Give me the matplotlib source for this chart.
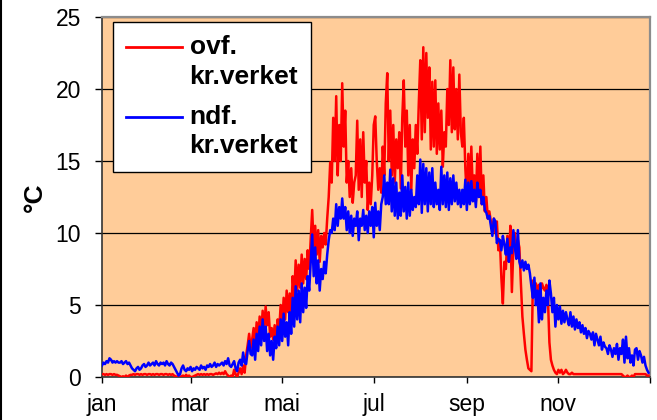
import numpy as np
import matplotlib
matplotlib.use("Agg")
import matplotlib.pyplot as plt
from matplotlib.lines import Line2D
from matplotlib.legend_handler import HandlerLine2D

plt.rcParams['font.family'] = ['Liberation Sans', 'DejaVu Sans']

# ---- data: daily temperature (°C), day of year 0..364 ----
days = np.arange(0, 365)

ovf = [
    0.2, 0.2, 0.15, 0.2, 0.15, 0.2, 0.2, 0.15, 0.2, 0.15,
    0.15, 0.1, 0.05, 0.0, 0.05, 0.0, 0.1, 0.0, 0.1, 0.15,
    0.15, 0.2, 0.15, 0.2, 0.2, 0.15, 0.2, 0.15, 0.2, 0.2,
    0.15, 0.2, 0.2, 0.15, 0.2, 0.15, 0.2, 0.2, 0.15, 0.2,
    0.2, 0.15, 0.2, 0.2, 0.15, 0.2, 0.15, 0.2, 0.1, 0.05,
    0.0, 0.1, 0.0, 0.05, 0.1, 0.0, 0.15, 0.05, 0.1, 0.0,
    0.0, 0.05, 0.1, 0.15, 0.2, 0.15, 0.2, 0.15, 0.2, 0.15,
    0.2, 0.15, 0.2, 0.2, 0.15, 0.2, 0.25, 0.2, 0.3, 0.2,
    0.3, 0.2, 0.4, 0.2, 0.1, 0.0, 0.1, 0.0, 0.5, 0.2,
    0.0, 0.3, 0.6, 0.2, 0.8, 0.3, 1.5, 2.2, 3.0, 2.0,
    2.6, 3.4, 2.2, 3.8, 2.5, 4.2, 3.0, 4.6, 3.2, 4.9,
    3.6, 4.5, 2.8, 3.4, 2.6, 3.6, 2.5, 4.0, 3.2, 5.0,
    3.6, 5.5, 4.0, 6.0, 4.5, 5.8, 4.2, 7.0, 5.5, 8.1,
    6.0, 7.8, 6.2, 8.5, 6.5, 8.2, 6.8, 8.8, 7.5, 9.5,
    11.6, 9.0, 10.5, 8.5, 10.2, 8.0, 9.8, 9.0, 10.0, 9.2,
    11.0, 12.5, 14.9, 13.5, 18.0, 15.0, 19.5, 14.0, 17.5, 15.0,
    20.4, 16.0, 18.5, 13.5, 15.0, 12.5, 14.5, 12.1, 13.5, 14.0,
    17.8, 13.0, 16.5, 12.5, 17.0, 13.5, 15.0, 11.6, 13.5, 12.0,
    14.0, 17.5, 18.1, 15.0, 13.0, 14.5, 12.8, 16.0, 14.0, 19.0,
    21.1, 15.0, 18.5, 14.0, 17.5, 13.5, 16.5, 14.5, 17.0, 13.1,
    18.0, 20.6, 16.0, 18.5, 14.0, 17.5, 13.0, 16.5, 14.5, 17.5,
    15.5, 19.0, 22.0, 16.5, 22.9, 17.0, 22.5, 18.0, 21.5, 15.8,
    20.5, 16.0, 20.6, 15.5, 19.0, 15.8, 18.5, 14.6, 17.0, 16.0,
    20.0, 17.5, 22.0, 17.0, 21.5, 17.2, 20.0, 16.5, 21.0, 17.0,
    16.0, 18.0, 14.5, 12.5, 15.5, 13.0, 16.0, 12.8, 14.0, 12.2,
    15.5, 12.5, 16.0, 12.0, 14.0, 11.5, 12.5, 11.0, 11.5, 10.8,
    10.2, 11.0, 10.0, 10.8, 8.8, 9.5, 6.9, 5.1, 8.0, 7.5,
    9.8, 8.0, 10.5, 5.9, 9.0, 10.0, 8.5, 9.5, 9.0, 6.5,
    4.2, 3.0, 1.9, 1.2, 0.6, 0.5, 0.4, 6.7, 6.2, 6.5,
    6.0, 6.4, 5.8, 6.5, 6.2, 6.0, 6.4, 5.5, 2.4, 1.2,
    0.8, 0.5, 0.3, 0.2, 0.5, 0.3, 0.5, 0.2, 0.3, 0.5,
    0.3, 0.2, 0.2, 0.3, 0.2, 0.2, 0.2, 0.2, 0.2, 0.2,
    0.2, 0.2, 0.2, 0.2, 0.2, 0.2, 0.2, 0.2, 0.2, 0.2,
    0.2, 0.2, 0.2, 0.2, 0.2, 0.2, 0.2, 0.2, 0.2, 0.2,
    0.2, 0.2, 0.2, 0.2, 0.2, 0.2, 0.2, 0.1, 0.0, 0.0,
    0.1, 0.0, 0.0, 0.1, 0.0, 0.2, 0.2, 0.2, 0.2, 0.2,
    0.2, 0.2, 0.2, 0.1, 0.1,
]

ndf = [
    0.8, 1.0, 0.9, 1.1, 1.0, 1.3, 1.2, 1.0, 1.1, 1.0,
    1.1, 1.0, 1.0, 1.1, 0.9, 1.0, 1.1, 0.9, 1.0, 0.8,
    0.6, 0.5, 0.4, 0.6, 0.7, 0.5, 0.6, 0.8, 0.9, 0.7,
    0.8, 1.0, 0.8, 0.9, 1.0, 0.8, 1.1, 0.9, 0.8, 1.0,
    0.9, 1.0, 0.8, 1.1, 0.9, 0.8, 1.0, 0.9, 0.7, 0.5,
    0.3, 0.1, 0.2, 0.6, 0.8, 0.5, 0.4, 0.6, 0.5, 0.7,
    0.4, 0.6, 0.5, 0.7, 0.6, 0.5, 0.8, 0.6, 0.7, 0.5,
    0.8, 0.7, 0.9, 0.7, 0.8, 1.0, 0.7, 0.9, 0.8, 0.9,
    1.0, 0.8, 1.1, 0.9, 1.3, 0.8, 0.7, 0.9, 1.1, 0.6,
    0.4, 1.0, 1.2, 0.8, 1.7, 1.0, 0.9, 1.8, 2.5, 1.6,
    1.5, 2.6, 1.2, 3.0, 1.8, 3.5, 2.2, 4.0, 2.5, 3.5,
    1.8, 3.0, 1.5, 2.5, 1.2, 2.8, 2.0, 3.5, 2.2, 4.0,
    2.5, 4.4, 2.8, 3.8, 2.2, 4.5, 3.0, 5.5, 3.5, 6.3,
    4.0, 6.0, 3.8, 6.5, 4.5, 6.2, 4.8, 7.0, 6.0, 8.0,
    9.9, 7.0, 9.0, 6.5, 8.1, 6.0, 7.5, 6.8, 8.0, 7.2,
    8.5, 9.5, 10.2, 10.0, 11.0, 10.2, 12.0, 10.5, 11.8, 11.0,
    12.4, 11.0, 11.8, 10.2, 11.5, 10.0, 11.2, 9.8, 11.0, 10.5,
    11.5, 9.5, 11.0, 10.5, 11.6, 10.2, 11.2, 10.0, 11.5, 10.5,
    11.8, 9.7, 12.1, 10.5, 11.5, 10.2, 12.0, 12.5, 14.0, 12.0,
    13.5, 12.0, 14.4, 11.5, 13.8, 11.2, 13.5, 11.0, 12.8, 11.2,
    14.0, 11.5, 13.2, 11.0, 13.5, 11.2, 13.0, 11.6, 12.5, 11.8,
    14.0, 12.0, 15.1, 11.4, 14.8, 12.0, 14.5, 11.5, 14.2, 12.0,
    14.5, 11.8, 13.5, 12.0, 13.0, 11.6, 14.6, 12.0, 14.0, 11.8,
    14.2, 11.6, 13.8, 12.0, 14.0, 12.2, 13.5, 12.0, 13.0, 11.8,
    13.0, 12.0, 13.7, 11.6, 13.5, 12.0, 13.6, 12.2, 13.0, 11.8,
    13.5, 12.5, 13.0, 12.0, 12.5, 11.6, 11.4, 11.0, 11.2, 10.5,
    9.8, 11.0, 10.8, 9.3, 9.6, 9.5, 8.8, 9.8, 9.2, 8.5,
    9.6, 8.0, 9.0, 8.6, 10.2, 9.0, 8.2, 10.2, 8.0, 7.6,
    8.1, 7.4, 8.0, 7.5, 7.8, 7.2, 6.3, 5.5, 6.9, 5.0,
    6.0, 3.8, 6.5, 4.0, 5.5, 4.5, 6.0, 5.0, 6.7, 5.8,
    4.5, 5.5, 3.5, 5.0, 4.0, 4.9, 3.7, 4.6, 3.8, 4.5,
    4.0, 3.6, 4.5, 3.5, 4.2, 3.3, 4.0, 3.4, 3.8, 3.1,
    3.6, 3.0, 3.4, 2.7, 3.2, 3.0, 2.6, 3.1, 2.2, 3.0,
    2.6, 2.2, 2.8, 1.9, 2.4, 2.1, 2.0, 1.6, 2.2, 1.9,
    1.4, 2.0, 1.6, 2.3, 1.2, 2.0, 1.6, 2.6, 1.0, 2.8,
    1.3, 2.0, 1.0, 1.5, 0.8, 1.9, 2.0, 1.2, 1.8, 1.5,
    1.0, 1.4, 0.8, 0.5, 0.3,
]

month_ticks = [0, 59, 120, 181, 243, 304, 365]
month_labels = ["jan", "mar", "mai", "jul", "sep", "nov", ""]
y_ticks = [0, 5, 10, 15, 20, 25]
series_labels = ["ovf.\nkr.verket", "ndf.\nkr.verket"]


class TopLine(HandlerLine2D):
    """Legend handle placed at the first text line."""
    def create_artists(self, legend, orig_handle, xdescent, ydescent,
                       width, height, fontsize, trans):
        arts = super().create_artists(legend, orig_handle, xdescent, ydescent,
                                      width, height, fontsize, trans)
        for a in arts:
            a.set_ydata(np.asarray(a.get_ydata()) + 0.58 * fontsize)
        return arts


fig = plt.figure(figsize=(6.57, 4.2), dpi=100)
ax = fig.add_axes([102 / 657, 1 - 377 / 420, 548 / 657, 360 / 420])
ax.set_facecolor('#FFCC99')

l1, = ax.plot(days, ovf, color='#FF0000', lw=1.8, label=series_labels[0], zorder=3)
l2, = ax.plot(days, ndf, color='#0000FF', lw=1.8, label=series_labels[1], zorder=4)

ax.set_xlim(0, 365)
ax.set_ylim(0, 25)
ax.set_yticks(y_ticks)
ax.set_xticks(month_ticks)
ax.set_xticklabels(month_labels)
ax.yaxis.grid(True, color='black', lw=0.9)
ax.set_axisbelow(True)

ax.tick_params(axis='y', direction='out', length=5, width=1, pad=10,
               labelsize=16.5, colors='black')
ax.tick_params(axis='x', direction='out', length=4.5, width=1, pad=7.3,
               labelsize=16.5, colors='black')

for s in ['left', 'bottom']:
    ax.spines[s].set_color('#333333')
    ax.spines[s].set_linewidth(1.2)
for s in ['top', 'right']:
    ax.spines[s].set_color('#8c8c8c')
    ax.spines[s].set_linewidth(1.6)

ax.set_ylabel("°C", fontsize=19, fontweight='bold')
ax.yaxis.set_label_coords(-0.1, 0.5)

leg = ax.legend(handles=[l1, l2], loc='upper left',
                bbox_to_anchor=(11 / 548, 1 - 5 / 360), borderaxespad=0,
                prop={'weight': 'bold', 'size': 19},
                fancybox=False, framealpha=1, edgecolor='black',
                borderpad=0.5, handlelength=2.1, handletextpad=0.3,
                labelspacing=0.6,
                handler_map={Line2D: TopLine()})
leg.get_frame().set_linewidth(1.0)
for t in leg.get_texts():
    t.set_linespacing(1.3)
for h in leg.get_lines():
    h.set_linewidth(2.0)

fig.add_artist(Line2D([0.0015, 0.0015], [0, 1], transform=fig.transFigure,
                      color='black', lw=1.5))

fig.savefig("out.png", dpi=100)
